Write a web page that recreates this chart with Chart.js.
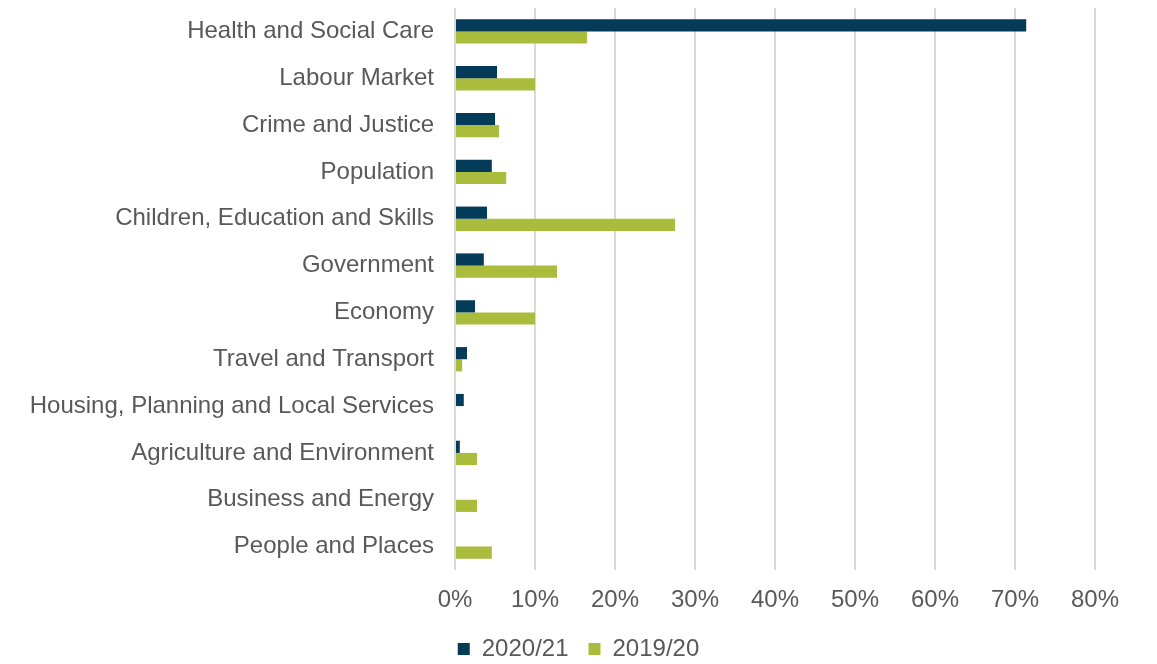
<!DOCTYPE html>
<html lang="en">
<head>
    <meta charset="UTF-8">
    <title>Topics by year</title>
    <script src="https://cdn.jsdelivr.net/npm/chart.js"></script>
    <style>
        body {
            margin: 0;
            padding: 0;
            background: #fff;
        }
        .chart-box {
            width: 1157px;
            height: 664px;
            position: relative;
        }
    </style>
</head>
<body>
    <div class="chart-box">
        <canvas id="topicChart"></canvas>
    </div>
    <script>
        const categories = [
            'Health and Social Care',
            'Labour Market',
            'Crime and Justice',
            'Population',
            'Children, Education and Skills',
            'Government',
            'Economy',
            'Travel and Transport',
            'Housing, Planning and Local Services',
            'Agriculture and Environment',
            'Business and Energy',
            'People and Places'
        ];
        const share2021 = [71.4, 5.25, 5.0, 4.6, 4.0, 3.6, 2.5, 1.5, 1.1, 0.6, 0, 0];
        const share1920 = [16.5, 10.0, 5.5, 6.4, 27.5, 12.75, 10.0, 0.9, 0, 2.75, 2.75, 4.6];
        const xTicks = [0, 10, 20, 30, 40, 50, 60, 70, 80];

        const textColor = '#595959';
        const font = { family: "'Liberation Sans', Arial, sans-serif", size: 24 };

        new Chart(document.getElementById('topicChart'), {
            type: 'bar',
            data: {
                labels: categories,
                datasets: [
                    {
                        label: '2020/21',
                        data: share2021,
                        backgroundColor: '#033b58'
                    },
                    {
                        label: '2019/20',
                        data: share1920,
                        backgroundColor: '#a9bc3b'
                    }
                ]
            },
            options: {
                indexAxis: 'y',
                responsive: true,
                maintainAspectRatio: false,
                animation: false,
                categoryPercentage: 0.52,
                barPercentage: 1.0,
                layout: {
                    padding: { top: 8, right: 0, bottom: 0, left: 0 }
                },
                plugins: {
                    tooltip: { enabled: false },
                    legend: {
                        position: 'bottom',
                        maxHeight: 47,
                        labels: {
                            color: textColor,
                            font: font,
                            boxWidth: 12,
                            boxHeight: 12,
                            padding: 20
                        }
                    }
                },
                scales: {
                    x: {
                        min: 0,
                        max: 80,
                        afterBuildTicks: axis => {
                            axis.ticks = xTicks.map(v => ({ value: v }));
                        },
                        afterFit: scale => {
                            scale.height = 47;
                            scale.paddingRight = 62;
                        },
                        border: { display: false },
                        grid: {
                            color: '#d9d9d9',
                            lineWidth: 2,
                            drawTicks: false
                        },
                        ticks: {
                            color: textColor,
                            font: font,
                            padding: 16,
                            callback: v => v + '%'
                        }
                    },
                    y: {
                        afterFit: scale => {
                            scale.width = 455;
                            scale.paddingTop = 0;
                            scale.paddingBottom = 0;
                        },
                        border: { display: false },
                        grid: { display: false, drawTicks: false },
                        ticks: {
                            color: textColor,
                            font: font,
                            padding: 21
                        }
                    }
                }
            }
        });
    </script>
</body>
</html>
